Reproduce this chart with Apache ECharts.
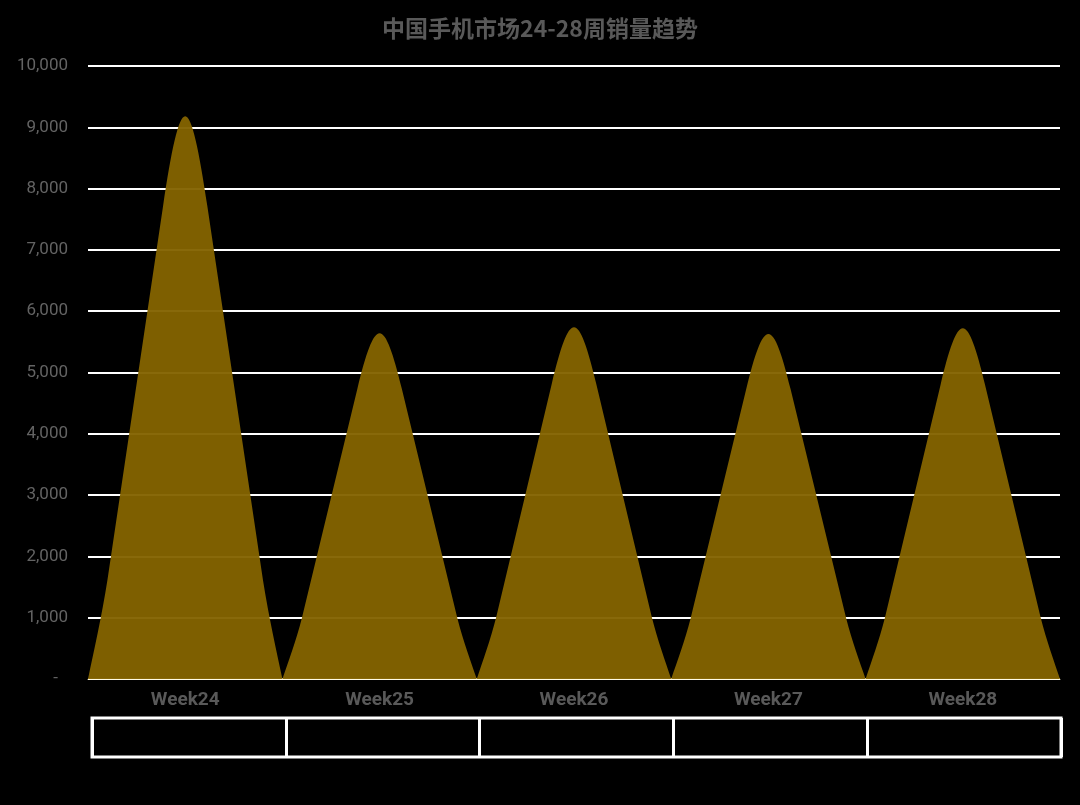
<!DOCTYPE html>
<html>
<head>
<meta charset="utf-8">
<script src="https://cdn.jsdelivr.net/npm/echarts@6/dist/echarts.min.js"></script>
<style>
html,body{margin:0;padding:0;background:#000;}
#chart{width:1080px;height:805px;}
</style>
</head>
<body>
<div id="chart"></div>
<script>
const titleText = '中国手机市场24-28周销量趋势';
const categories = ['Week24', 'Week25', 'Week26', 'Week27', 'Week28'];
const sales = [9180, 5640, 5740, 5630, 5720];
const yMin = 0, yMax = 10000, yStep = 1000;

// peak outline symbol, normalized 200 x 100 box (base at bottom, rounded tip at top)
const peakPath = 'path://M0,100 C6,95 14,89 20,82.4 L77.2,16 C85.8,6 93,0 100,0 C107,0 114.2,6 122.8,16 L180,82.4 C186,89 194,95 200,100 Z';

const chart = echarts.init(document.getElementById('chart'));
chart.setOption({
  backgroundColor: '#000',
  animation: false,
  title: {
    text: titleText,
    left: 'center',
    top: 12,
    textStyle: { color: '#595959', fontSize: 23, fontWeight: 'bold', fontFamily: 'Noto Sans CJK SC' }
  },
  grid: [
    { left: 88, right: 20, top: 66, bottom: 126 },
    { left: 92, right: 19, top: 718, height: 39, show: true, borderColor: '#fff', borderWidth: 3, backgroundColor: 'transparent' }
  ],
  xAxis: [
    {
      type: 'category', gridIndex: 0, data: categories,
      axisLine: { show: true, lineStyle: { color: 'rgba(255,250,220,0.75)', width: 1 } },
      axisTick: { show: false },
      axisLabel: { color: '#595959', fontSize: 19, fontWeight: 'bold', fontFamily: 'Roboto', margin: 12 }
    },
    {
      type: 'category', gridIndex: 1, data: categories,
      axisLine: { show: false }, axisTick: { show: false }, axisLabel: { show: false },
      splitLine: { show: true, lineStyle: { color: '#fff', width: 3 } }
    }
  ],
  yAxis: [
    {
      type: 'value', gridIndex: 0, min: yMin, max: yMax, interval: yStep,
      axisLine: { show: false }, axisTick: { show: false },
      splitLine: { show: true, lineStyle: { color: '#fff', width: 2 } },
      axisLabel: {
        color: '#636363', fontSize: 17, fontFamily: 'Roboto', margin: 20,
        formatter: v => v === 0 ? '{d|-}' : v.toLocaleString('en-US'),
        rich: { d: { color: '#636363', fontSize: 17, padding: [0, 10, 0, 0] } }
      }
    },
    { type: 'value', gridIndex: 1, show: false, splitLine: { show: false } }
  ],
  series: [
    {
      type: 'pictorialBar',
      xAxisIndex: 0, yAxisIndex: 0,
      data: sales,
      symbol: peakPath,
      symbolSize: ['100%', '100%'],
      barWidth: '100%',
      barCategoryGap: '0%',
      itemStyle: { color: '#836300', opacity: 0.96 },
      z: 3
    }
  ]
});
</script>
</body>
</html>
